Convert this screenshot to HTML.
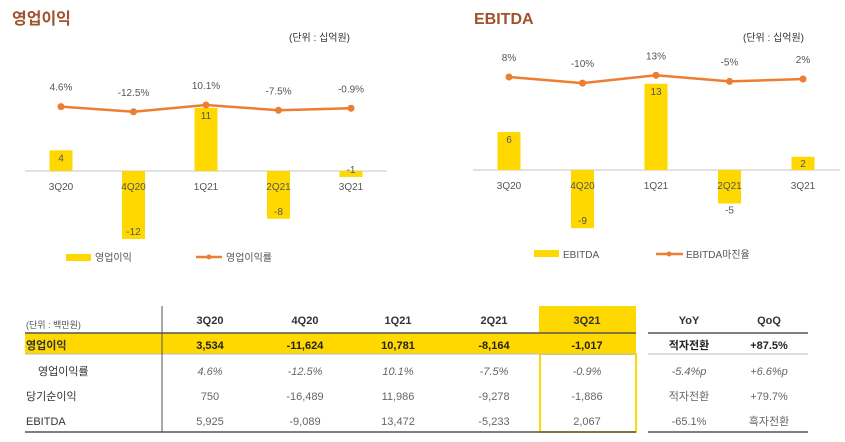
<!DOCTYPE html>
<html><head><meta charset="utf-8"><style>
body{margin:0;background:#fff;width:845px;height:442px;overflow:hidden;font-family:"Liberation Sans","Noto Sans CJK KR",sans-serif}
svg{display:block}
</style></head><body>
<svg id="s" width="845" height="442" xmlns="http://www.w3.org/2000/svg" font-family="Liberation Sans, Noto Sans CJK KR, sans-serif">
<text x="12" y="24" font-size="16" font-weight="bold" fill="#a0522d">영업이익</text>
<text x="289" y="41" font-size="10" fill="#333">(단위 : 십억원)</text>
<text x="474" y="24" font-size="16" font-weight="bold" fill="#a0522d">EBITDA</text>
<text x="743" y="41" font-size="10" fill="#333">(단위 : 십억원)</text>
<g id="c1"></g><g id="c2"></g>
<g>
<rect x="66" y="254" width="25" height="7" fill="#ffd800"/><text x="95" y="261" font-size="10" fill="#555">영업이익</text>
<line x1="196" y1="257" x2="222" y2="257" stroke="#ed7d31" stroke-width="2.5"/><circle cx="209" cy="257" r="2.5" fill="#ed7d31"/><text x="226" y="261" font-size="10" fill="#555">영업이익률</text>
</g>
<g>
<rect x="534" y="250" width="25" height="7" fill="#ffd800"/><text x="563" y="258" font-size="10" fill="#555">EBITDA</text>
<line x1="656" y1="254" x2="683" y2="254" stroke="#ed7d31" stroke-width="2.5"/><circle cx="669" cy="254" r="2.5" fill="#ed7d31"/><text x="686" y="258" font-size="10" fill="#555">EBITDA마진율</text>
</g>
<g id="tbl"></g>
</svg>
<script>
const quarters=["3Q20","4Q20","1Q21","2Q21","3Q21"];
const opValues=[3.534,-11.624,10.781,-8.164,-1.017];
const opLabels=["4","-12","11","-8","-1"];
const opMargin=[4.6,-12.5,10.1,-7.5,-0.9];
const opMarginLabels=["4.6%","-12.5%","10.1%","-7.5%","-0.9%"];
const ebValues=[5.925,-9.089,13.472,-5.233,2.067];
const ebLabels=["6","-9","13","-5","2"];
const ebMargin=[8,-10,13,-5,2];
const ebMarginLabels=["8%","-10%","13%","-5%","2%"];
const NS="http://www.w3.org/2000/svg";
function mk(p,t,a,txt){const e=document.createElementNS(NS,t);for(const k in a)e.setAttribute(k,a[k]);if(txt!==undefined)e.textContent=txt;p.appendChild(e);return e;}
function chart(g,cfg){
  const x=i=>cfg.x0+i*cfg.dx, y=v=>cfg.zero-v*cfg.k, ly=m=>cfg.lz-m*cfg.lk;
  const ax=mk(g,'line',{x1:cfg.a0,x2:cfg.a1,y1:cfg.zero,y2:cfg.zero,stroke:'#d9d9d9','stroke-width':1.5});
  
  cfg.vals.forEach((v,i)=>{
    const r=mk(g,'rect',{x:x(i)-11.5,width:23,y:Math.min(y(v),cfg.zero),height:Math.abs(y(v)-cfg.zero),fill:'#ffd800'});
    
    const vy=v>=0?Math.min(y(v)+11,cfg.zero-3):y(v)-4;
    const t=mk(g,'text',{x:x(i),y:cfg.lblBelow&&cfg.lblBelow[i]?y(v)+10:vy,'font-size':10,fill:'#555','text-anchor':'middle'},cfg.lbls[i]);
    
    const q=mk(g,'text',{x:x(i),y:cfg.zero+19,'font-size':10,fill:'#555','text-anchor':'middle'},quarters[i]);
    
  });
  const pl=mk(g,'polyline',{points:cfg.m.map((m,i)=>x(i)+','+ly(m)).join(' '),fill:'none',stroke:'#ed7d31','stroke-width':2.5});
  
  cfg.m.forEach((m,i)=>{
    const c=mk(g,'circle',{cx:x(i),cy:ly(m),r:3.5,fill:'#ed7d31'});
    
    const t=mk(g,'text',{x:x(i),y:ly(m)-16,'font-size':10,fill:'#555','text-anchor':'middle'},cfg.ml[i]);
    
  });
}
chart(document.getElementById('c1'),{p:'op',x0:61,dx:72.5,zero:171,k:5.85,lz:108,lk:0.3,a0:25,a1:387,vals:opValues,lbls:opLabels,m:opMargin,ml:opMarginLabels});
chart(document.getElementById('c2'),{p:'ebitda',x0:509,dx:73.5,zero:170,k:6.4,lz:79.7,lk:0.34,a0:473,a1:840,vals:ebValues,lbls:ebLabels,m:ebMargin,ml:ebMarginLabels,lblBelow:[0,0,0,1,0]});
// table
const T=document.getElementById('tbl');
const cols=[210,305,398,494,587], ycol=[689,769];
mk(T,'rect',{x:539,y:306,width:97,height:27,fill:'#ffd800'});
mk(T,'rect',{x:25,y:333,width:611,height:21,fill:'#ffd800'});
mk(T,'rect',{x:540,y:354,width:96,height:78,fill:'none',stroke:'#ffd800','stroke-width':2});
mk(T,'line',{x1:25,x2:636,y1:333,y2:333,stroke:'#555','stroke-width':1.5});
mk(T,'line',{x1:648,x2:808,y1:333,y2:333,stroke:'#555','stroke-width':1.5});
mk(T,'line',{x1:25,x2:636,y1:354,y2:354,stroke:'#bbb'});
mk(T,'line',{x1:648,x2:808,y1:354,y2:354,stroke:'#bbb'});
mk(T,'line',{x1:25,x2:636,y1:432,y2:432,stroke:'#555','stroke-width':1.5});
mk(T,'line',{x1:648,x2:808,y1:432,y2:432,stroke:'#555','stroke-width':1.5});
mk(T,'line',{x1:162,x2:162,y1:306,y2:432,stroke:'#555'});
mk(T,'text',{x:26,y:328,'font-size':9,fill:'#555'},'(단위 : 백만원)');
const hdr=quarters.concat(['YoY','QoQ']), hx=cols.concat(ycol);
hdr.forEach((h,i)=>mk(T,'text',{x:hx[i],y:324,'font-size':11,'font-weight':'bold',fill:'#333','text-anchor':'middle'},h));
const rows=[
 {l:'영업이익',lx:26,y:349,b:1,v:['3,534','-11,624','10,781','-8,164','-1,017','적자전환','+87.5%']},
 {l:'영업이익률',lx:38,y:375,i:1,v:['4.6%','-12.5%','10.1%','-7.5%','-0.9%','-5.4%p','+6.6%p']},
 {l:'당기순이익',lx:26,y:400,v:['750','-16,489','11,986','-9,278','-1,886','적자전환','+79.7%']},
 {l:'EBITDA',lx:26,y:425,v:['5,925','-9,089','13,472','-5,233','2,067','-65.1%','흑자전환']}];
rows.forEach(r=>{
 mk(T,'text',{x:r.lx,y:r.y,'font-size':11,'font-weight':r.b?'bold':'normal',fill:'#333'},r.l);
 r.v.forEach((v,i)=>mk(T,'text',{x:hx[i],y:r.y,'font-size':11,'font-weight':r.b?'bold':'normal','font-style':r.i?'italic':'normal',fill:r.b?'#222':'#666','text-anchor':'middle'},v));
});
</script>
</body></html>
